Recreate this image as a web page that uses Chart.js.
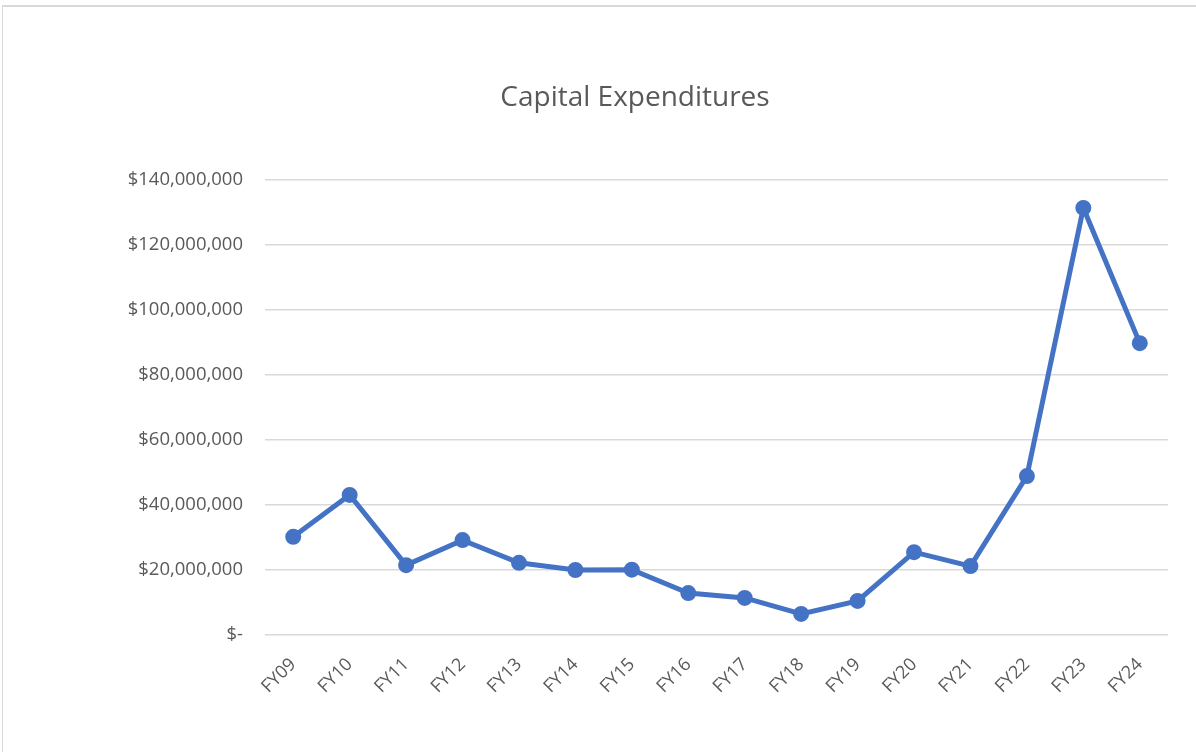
<!DOCTYPE html>
<html>
<head>
<meta charset="utf-8">
<script src="https://cdn.jsdelivr.net/npm/chart.js@4/dist/chart.umd.min.js"></script>
<style>
  html, body { margin: 0; padding: 0; background: #ffffff; overflow: hidden; }
  #wrap { position: relative; width: 1196px; height: 752px; }
  #frame { position: absolute; left: 2px; top: 5px; width: 1300px; height: 900px;
           border-top: 2px solid #d9d9d9; border-left: 1px solid #d9d9d9; }
  canvas { position: absolute; left: 0; top: 0; }
</style>
</head>
<body>
<div id="wrap">
  <div id="frame"></div>
  <canvas id="chart" width="1196" height="752"></canvas>
</div>
<script>
// Fiscal years
const fiscalYears = ['FY09','FY10','FY11','FY12','FY13','FY14','FY15','FY16',
                     'FY17','FY18','FY19','FY20','FY21','FY22','FY23','FY24'];
// Capital expenditures per fiscal year, in dollars
const capex = [30200000, 43100000, 21500000, 29200000, 22200000, 20000000, 20100000, 12900000,
               11400000, 6500000, 10500000, 25500000, 21200000, 48900000, 131400000, 89800000];
// Value axis ticks
const yTicks = [0, 20000000, 40000000, 60000000, 80000000, 100000000, 120000000, 140000000];

const textColor = '#595959';
const fontFamily = '"Open Sans", "Liberation Sans", sans-serif';

function money(v) {
  if (v === 0) return '$-';
  return '$' + v.toLocaleString('en-US');
}

new Chart(document.getElementById('chart'), {
  type: 'line',
  data: {
    labels: fiscalYears,
    datasets: [{
      label: 'Capital Expenditures',
      data: capex,
      borderColor: '#4472C4',
      backgroundColor: '#4472C4',
      borderWidth: 5,
      pointRadius: 5.5,
      pointHoverRadius: 5.5,
      pointBackgroundColor: '#4472C4',
      pointBorderColor: '#4472C4',
      tension: 0
    }]
  },
  options: {
    responsive: false,
    animation: false,
    layout: { padding: { left: 102, right: 28, top: 0, bottom: 0 } },
    plugins: {
      legend: { display: false },
      tooltip: { enabled: false },
      title: {
        display: true,
        text: 'Capital Expenditures',
        color: textColor,
        font: { family: fontFamily, size: 28, weight: 'normal', lineHeight: 1.2 },
        padding: { top: 81, bottom: 65.4 }
      }
    },
    scales: {
      x: {
        offset: true,
        grid: { display: false, drawTicks: false },
        border: { display: false },
        ticks: {
          color: textColor,
          font: { family: fontFamily, size: 18 },
          minRotation: 45,
          maxRotation: 45,
          padding: 19
        },
        afterFit(scale) { scale.height = 117; }
      },
      y: {
        min: 0,
        max: 140000000,
        afterBuildTicks(scale) { scale.ticks = yTicks.map(v => ({ value: v })); },
        grid: { color: '#d9d9d9', lineWidth: 1.5, drawTicks: false },
        border: { display: false },
        ticks: {
          color: textColor,
          font: { family: fontFamily, size: 18.5 },
          padding: 22,
          callback: (v) => money(v)
        },
        afterFit(scale) { scale.width = 163; }
      }
    }
  }
});
</script>
</body>
</html>
